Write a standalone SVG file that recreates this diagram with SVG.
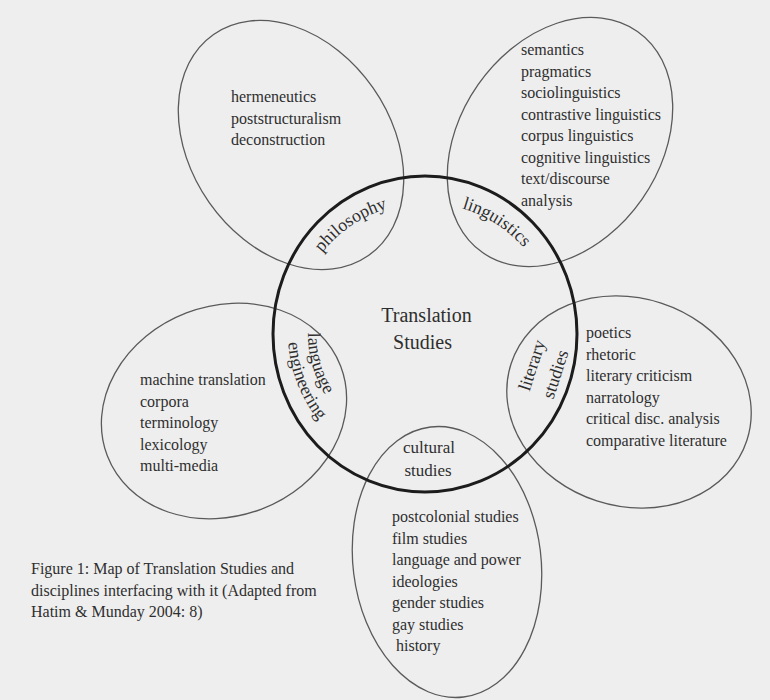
<svg xmlns="http://www.w3.org/2000/svg" width="770" height="700" viewBox="0 0 770 700">
  <style>
    text { font-family: "Liberation Serif", "Times New Roman", serif; fill: #2e2e2e; }
    .item { font-size: 16px; }
    .arc-label { font-size: 18px; }
    .title { font-size: 20px; text-anchor: middle; }
    .lobe { fill: none; stroke: #5a5a5a; stroke-width: 1.3; }
    .core { fill: none; stroke: #1c1c1c; stroke-width: 3; }
  </style>
  <defs>
    <!-- arcs concentric with the central circle, used as label baselines -->
    <path id="arc-philosophy" d="M302.5,287.5 A131,131 0 0 1 426.8,203.0"/>
    <path id="arc-linguistics" d="M419.5,203.1 A131,131 0 0 1 546.1,284.1"/>
    <path id="arc-language" d="M318.6,285.3 A117,117 0 0 0 358.6,430.3"/>
    <path id="arc-engineering" d="M295.2,290.3 A137,137 0 0 0 359.4,454.3"/>
  </defs>

  <rect x="0" y="0" width="770" height="700" fill="#eeeeee"/>

  <!-- philosophy lobe -->
  <g id="philosophy">
    <ellipse class="lobe" cx="291" cy="145" rx="135" ry="100" transform="rotate(55 291 145)"/>
    <text class="item" x="231" y="102">hermeneutics</text>
    <text class="item" x="231" y="123.5">poststructuralism</text>
    <text class="item" x="231" y="145">deconstruction</text>
    <text class="arc-label"><textPath href="#arc-philosophy" startOffset="50%" text-anchor="middle">philosophy</textPath></text>
  </g>

  <!-- linguistics lobe -->
  <g id="linguistics">
    <ellipse class="lobe" cx="560" cy="142" rx="135" ry="100" transform="rotate(-55 560 142)"/>
    <text class="item" x="521" y="55">semantics</text>
    <text class="item" x="521" y="76.5">pragmatics</text>
    <text class="item" x="521" y="98">sociolinguistics</text>
    <text class="item" x="521" y="119.5">contrastive linguistics</text>
    <text class="item" x="521" y="141">corpus linguistics</text>
    <text class="item" x="521" y="162.5">cognitive linguistics</text>
    <text class="item" x="521" y="184">text/discourse</text>
    <text class="item" x="521" y="205.5">analysis</text>
    <text class="arc-label"><textPath href="#arc-linguistics" startOffset="50%" text-anchor="middle">linguistics</textPath></text>
  </g>

  <!-- language engineering lobe -->
  <g id="language-engineering">
    <ellipse class="lobe" cx="224" cy="411" rx="125" ry="105" transform="rotate(-21 224 411)"/>
    <text class="item" x="140" y="385">machine translation</text>
    <text class="item" x="140" y="406.5">corpora</text>
    <text class="item" x="140" y="428">terminology</text>
    <text class="item" x="140" y="449.5">lexicology</text>
    <text class="item" x="140" y="471">multi-media</text>
    <text class="arc-label"><textPath href="#arc-language" startOffset="50%" text-anchor="middle">language</textPath></text>
    <text class="arc-label"><textPath href="#arc-engineering" startOffset="50%" text-anchor="middle">engineering</textPath></text>
  </g>

  <!-- literary studies lobe -->
  <g id="literary-studies">
    <ellipse class="lobe" cx="629" cy="402" rx="124" ry="104" transform="rotate(18 629 402)"/>
    <text class="item" x="586" y="338">poetics</text>
    <text class="item" x="586" y="359.5">rhetoric</text>
    <text class="item" x="586" y="381">literary criticism</text>
    <text class="item" x="586" y="402.5">narratology</text>
    <text class="item" x="586" y="424">critical disc. analysis</text>
    <text class="item" x="586" y="445.5">comparative literature</text>
    <text class="arc-label" text-anchor="middle" transform="translate(537.5 367) rotate(-72)">literary</text>
    <text class="arc-label" text-anchor="middle" transform="translate(561 376) rotate(-72)">studies</text>
  </g>

  <!-- cultural studies lobe -->
  <g id="cultural-studies">
    <ellipse class="lobe" cx="447" cy="562" rx="94" ry="136" transform="rotate(-7 447 562)"/>
    <text class="item" x="429" y="453" text-anchor="middle" style="font-size:17px">cultural</text>
    <text class="item" x="428" y="476" text-anchor="middle" style="font-size:17px">studies</text>
    <text class="item" x="392" y="522">postcolonial studies</text>
    <text class="item" x="392" y="543.5">film studies</text>
    <text class="item" x="392" y="565">language and power</text>
    <text class="item" x="392" y="586.5">ideologies</text>
    <text class="item" x="392" y="608">gender studies</text>
    <text class="item" x="392" y="629.5">gay studies</text>
    <text class="item" x="396" y="651">history</text>
  </g>

  <!-- central discipline -->
  <g id="translation-studies">
    <ellipse class="core" cx="425" cy="334" rx="152" ry="158"/>
    <text class="title" x="426.5" y="322">Translation</text>
    <text class="title" x="422.5" y="349">Studies</text>
  </g>

  <g id="caption">
    <text class="item" x="31" y="574">Figure 1: Map of Translation Studies and</text>
    <text class="item" x="31" y="595.5">disciplines interfacing with it (Adapted from</text>
    <text class="item" x="31" y="617">Hatim &amp; Munday 2004: 8)</text>
  </g>
</svg>
